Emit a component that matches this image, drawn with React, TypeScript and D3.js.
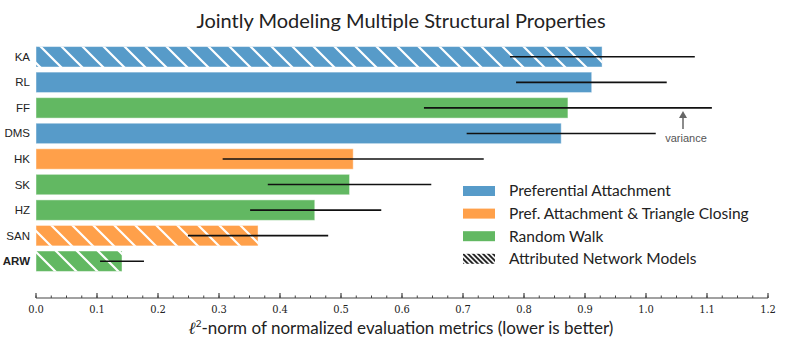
import React, { useEffect, useRef } from 'react';
import * as d3 from 'd3';

// Data
const models = ['KA', 'RL', 'FF', 'DMS', 'HK', 'SK', 'HZ', 'SAN', 'ARW'];
const scores = [0.928, 0.911, 0.872, 0.861, 0.520, 0.514, 0.457, 0.364, 0.141];
const errLow = [0.777, 0.787, 0.636, 0.706, 0.306, 0.380, 0.351, 0.249, 0.105];
const errHigh = [1.080, 1.034, 1.108, 1.016, 0.734, 0.648, 0.566, 0.479, 0.177];
const families = ['PA', 'PA', 'RW', 'PA', 'PATC', 'RW', 'RW', 'PATC', 'RW'];
const attributed = [true, false, false, false, false, false, false, true, true];
const legendKeys = ['PA', 'PATC', 'RW'];
const legendLabels = ['Preferential Attachment', 'Pref. Attachment & Triangle Closing', 'Random Walk', 'Attributed Network Models'];
const xTicks = [0, 0.1, 0.2, 0.3, 0.4, 0.5, 0.6, 0.7, 0.8, 0.9, 1.0, 1.1, 1.2];

const W = 789;
const H = 357;
const humanist = 'Lato, "Open Sans", sans-serif';

export default function App() {
    const ref = useRef<SVGSVGElement>(null);

    useEffect(() => {
        const svg = d3.select(ref.current);
        svg.selectAll('*').remove();

        const x = d3.scaleLinear().domain([0, 1.2]).range([36, 768]);
        const y = d3.scaleBand().domain(models).range([44, 274]).paddingInner(0.2).paddingOuter(0.1);
        const color = d3.scaleOrdinal<string, string>()
            .domain(legendKeys)
            .range(['#579bc9', '#ffa04a', '#62b862']);

        // hatch patterns
        const defs = svg.append('defs');
        defs.append('pattern')
            .attr('id', 'hatch-white')
            .attr('patternUnits', 'userSpaceOnUse')
            .attr('width', 21).attr('height', 21)
            .attr('patternTransform', 'translate(36,0)')
            .append('path')
            .attr('d', 'M-2,-2 L23,23 M-2,19 L2,23 M19,-2 L23,2')
            .attr('stroke', 'white')
            .attr('stroke-width', 2.2);
        defs.append('pattern')
            .attr('id', 'hatch-black')
            .attr('patternUnits', 'userSpaceOnUse')
            .attr('width', 5).attr('height', 5)
            .append('path')
            .attr('d', 'M-1,-1 L6,6 M-1,4 L1,6 M4,-1 L6,1')
            .attr('stroke', '#111')
            .attr('stroke-width', 1.8);

        // title
        svg.append('text')
            .attr('x', 401).attr('y', 28)
            .attr('text-anchor', 'middle')
            .style('font-family', humanist)
            .style('font-size', '20px')
            .style('fill', '#222')
            .text('Jointly Modeling Multiple Structural Properties');

        const rows = svg.selectAll('.row')
            .data(models.map((m, i) => ({ m, i })))
            .enter().append('g')
            .attr('class', 'row');

        rows.append('rect')
            .attr('x', x(0))
            .attr('y', d => y(d.m)!)
            .attr('width', d => x(scores[d.i]) - x(0))
            .attr('height', y.bandwidth())
            .style('fill', d => color(families[d.i]))
            .style('stroke', 'rgba(255,255,255,0.45)')
            .style('stroke-width', 1);

        rows.filter(d => attributed[d.i])
            .append('rect')
            .attr('x', x(0))
            .attr('y', d => y(d.m)!)
            .attr('width', d => x(scores[d.i]) - x(0))
            .attr('height', y.bandwidth())
            .style('fill', 'url(#hatch-white)');

        rows.append('line')
            .attr('x1', d => x(errLow[d.i]))
            .attr('x2', d => x(errHigh[d.i]))
            .attr('y1', d => y(d.m)! + y.bandwidth() / 2)
            .attr('y2', d => y(d.m)! + y.bandwidth() / 2)
            .style('stroke', '#111')
            .style('stroke-width', 1.6);

        rows.append('text')
            .attr('x', 30)
            .attr('y', d => y(d.m)! + y.bandwidth() / 2)
            .attr('dy', '.35em')
            .attr('text-anchor', 'end')
            .style('font-family', '"Liberation Sans", Arial, sans-serif')
            .style('font-size', '11.5px')
            .style('font-weight', d => (d.m === 'ARW' ? 'bold' : 'normal'))
            .style('fill', '#222')
            .text(d => d.m);

        // x axis
        const axisY = 298;
        const axis = svg.append('g').attr('transform', `translate(0,${axisY})`);
        axis.append('line')
            .attr('x1', x(0)).attr('x2', x(1.2))
            .style('stroke', '#444').style('stroke-width', 1.2);
        axis.selectAll('.minor')
            .data(d3.range(0, 49).map(k => k * 0.025))
            .enter().append('line')
            .attr('x1', d => x(d)).attr('x2', d => x(d))
            .attr('y1', 0).attr('y2', -2.5)
            .style('stroke', '#444').style('stroke-width', 1);
        axis.selectAll('.major')
            .data(xTicks)
            .enter().append('line')
            .attr('x1', d => x(d)).attr('x2', d => x(d))
            .attr('y1', 0).attr('y2', -5)
            .style('stroke', '#444').style('stroke-width', 1.2);
        axis.selectAll('.tick-label')
            .data(xTicks)
            .enter().append('text')
            .attr('x', d => x(d))
            .attr('y', 15)
            .attr('text-anchor', 'middle')
            .style('font-family', '"DejaVu Serif Condensed", "Liberation Serif", serif')
            .style('font-size', '11px')
            .style('fill', '#222')
            .text(d => d3.format('.1f')(d));

        const xl = svg.append('text')
            .attr('x', 401).attr('y', 334)
            .attr('text-anchor', 'middle')
            .style('font-family', humanist)
            .style('font-size', '17px')
            .style('fill', '#222');
        xl.append('tspan').style('font-style', 'italic').style('font-family', '"Liberation Serif", serif').text('ℓ');
        xl.append('tspan').attr('dy', -7).style('font-size', '10px').text('2');
        xl.append('tspan').attr('dy', 7).text('-norm of normalized evaluation metrics (lower is better)');

        // variance annotation
        const ffY = y('FF')! + y.bandwidth() / 2;
        svg.append('line')
            .attr('x1', 683).attr('x2', 683)
            .attr('y1', ffY + 9).attr('y2', ffY + 21)
            .style('stroke', '#666').style('stroke-width', 1.5);
        svg.append('path')
            .attr('d', `M679,${ffY + 10} L683,${ffY + 3} L687,${ffY + 10} Z`)
            .style('fill', '#666');
        svg.append('text')
            .attr('x', 686).attr('y', ffY + 34)
            .attr('text-anchor', 'middle')
            .style('font-family', '"Liberation Sans", Arial, sans-serif')
            .style('font-size', '11px')
            .style('fill', '#555')
            .text('variance');

        // legend
        const lg = svg.selectAll('.legend')
            .data(legendLabels.map((l, i) => ({ l, i })))
            .enter().append('g')
            .attr('transform', d => `translate(463,${191 + d.i * 22.6})`);
        lg.append('rect')
            .attr('x', 0).attr('y', -5)
            .attr('width', 32).attr('height', 10)
            .style('fill', d => (d.i < 3 ? color(legendKeys[d.i]) : 'url(#hatch-black)'));
        lg.append('text')
            .attr('x', 46).attr('y', 0)
            .attr('dy', '.35em')
            .style('font-family', humanist)
            .style('font-size', '15.5px')
            .style('fill', '#222')
            .text(d => d.l);
    }, []);

    return (
        <svg ref={ref} width={W} height={H} style={{ position: 'absolute', left: 0, top: 0, background: 'white' }}></svg>
    );
}
